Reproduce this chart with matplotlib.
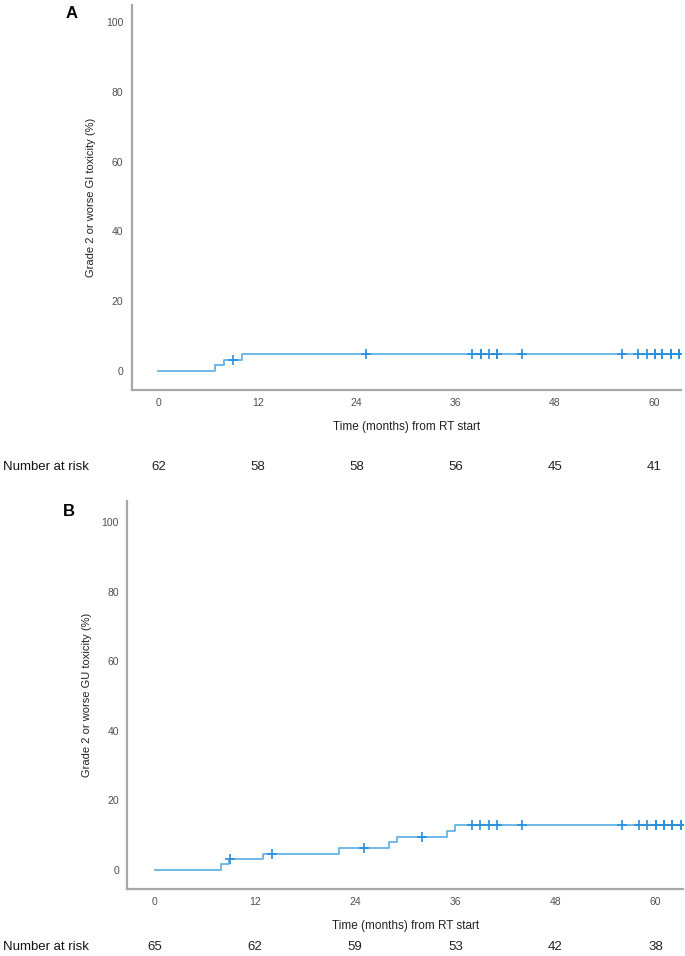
import numpy as np
import matplotlib.pyplot as plt

plt.rcParams["font.family"] = ["Liberation Sans Narrow", "Liberation Sans", "DejaVu Sans"]

# Panel A - GI toxicity
a_times = [0, 6.9, 7.9, 10.1, 63.0]
a_values = [0, 1.6, 3.2, 4.9, 4.9]
a_censor = [9.0, 25.1, 38.0, 39.0, 39.0, 40.0, 41.0, 41.0, 44.0, 56.1, 58.0, 59.1,
            60.1, 60.1, 61.0, 61.0, 62.0, 62.0, 63.0, 63.0]
a_risk = [62, 58, 58, 56, 45, 41]

# Panel B - GU toxicity
b_times = [0, 7.9, 8.9, 13.0, 22.0, 28.0, 29.0, 35.0, 36.0, 63.0]
b_values = [0, 1.6, 3.2, 4.7, 6.3, 8.0, 9.6, 11.2, 12.8, 12.8]
b_censor = [9.0, 14.0, 25.0, 32.0, 38.0, 39.0, 40.0, 41.0, 44.0, 56.0, 58.0, 59.0,
            60.0, 60.0, 61.0, 61.0, 62.0, 62.0, 63.0, 63.0]
b_risk = [65, 62, 59, 53, 42, 38]

risk_ticks = [0, 12, 24, 36, 48, 60]

LINE = "#62b4e6"
MARK = "#2a8fda"
SPINE = "#a8a8a8"
TICKTXT = "#505050"


def level_at(times, values, t):
    i = np.searchsorted(times, t, side="right") - 1
    return values[i]


def draw_panel(ax, times, values, censor, risk, ylabel, xlim, ylim, risk_y, risk_fig_y):
    ax.step(times, values, where="post", color=LINE, linewidth=1.3)
    cy = [level_at(times, values, t) for t in censor]
    ax.plot(censor, cy, linestyle="none", marker="+", markersize=7,
            markeredgewidth=1.2, color=MARK)

    ax.set_xlim(*xlim)
    ax.set_ylim(*ylim)
    ax.set_xticks(risk_ticks)
    ax.set_yticks([0, 20, 40, 60, 80, 100])
    ax.tick_params(length=0, labelsize=7.5, labelcolor=TICKTXT, pad=6)
    for s in ["top", "right"]:
        ax.spines[s].set_visible(False)
    for s in ["left", "bottom"]:
        ax.spines[s].set_color(SPINE)
        ax.spines[s].set_linewidth(1.6)

    ax.set_xlabel("Time (months) from RT start", fontsize=8.5, color="#222222", labelpad=9)
    ax.set_ylabel(ylabel, fontsize=8, color="#222222", labelpad=7)

    tr = ax.get_xaxis_transform()
    for x, n in zip(risk_ticks, risk):
        ax.text(x, risk_y, str(n), transform=tr, ha="center", va="center",
                fontsize=9.5, color="#222222", clip_on=False)
    ax.figure.text(0.004, risk_fig_y, "Number at risk", ha="left", va="center",
                   fontsize=9.5, color="#111111")


fig = plt.figure(figsize=(6.85, 9.56), dpi=100)
ax_a = fig.add_axes([0.1923, 0.592, 0.8019, 0.4028])
ax_b = fig.add_axes([0.1858, 0.0701, 0.8112, 0.4058])

draw_panel(ax_a, a_times, a_values, a_censor, a_risk,
           "Grade 2 or worse GI toxicity (%)",
           (-3.24, 63.26), (-5.44, 104.9), -0.2, 1 - 467 / 956)
draw_panel(ax_b, b_times, b_values, b_censor, b_risk,
           "Grade 2 or worse GU toxicity (%)",
           (-3.32, 63.27), (-5.46, 106.0), -0.149, 1 - 947 / 956)

fig.text(72 / 685, 1 - 14 / 956, "A", fontsize=12, fontweight="bold",
         fontfamily="Liberation Sans", ha="center", va="center")
fig.text(69 / 685, 1 - 512 / 956, "B", fontsize=12, fontweight="bold",
         fontfamily="Liberation Sans", ha="center", va="center")

fig.savefig("out.png", dpi=100)
